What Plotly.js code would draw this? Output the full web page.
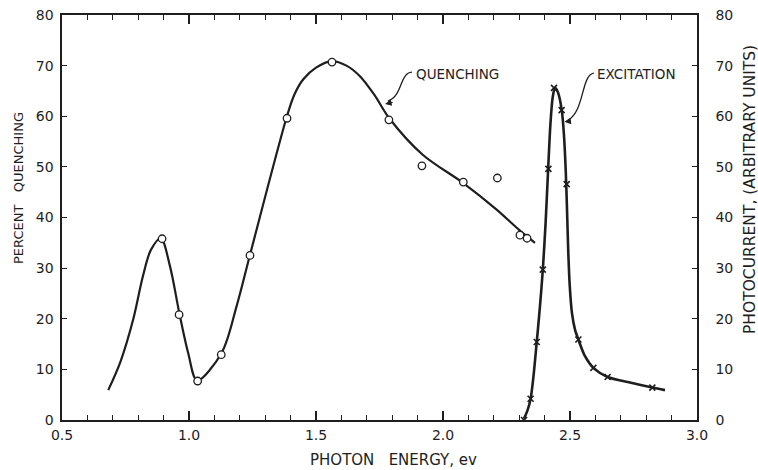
<!DOCTYPE html>
<html>
<head>
<meta charset="utf-8">
<script src="https://cdn.plot.ly/plotly-3.0.1.min.js"></script>
<style>
  html, body { margin: 0; padding: 0; background: #fff; }
  #chart { width: 758px; height: 470px; }
</style>
</head>
<body>
<div id="chart"></div>
<script>
// ---- Data ----
// Quenching: measured points (open circles), percent quenching
const quenchPointsX = [0.894, 0.961, 1.034, 1.127, 1.240, 1.386, 1.563, 1.787, 1.917, 2.080, 2.214, 2.303, 2.331];
const quenchPointsY = [35.8, 20.8, 7.7, 12.9, 32.5, 59.6, 70.7, 59.3, 50.2, 47.0, 47.8, 36.5, 35.9];

// Quenching: hand-drawn smooth curve, traced
const quenchCurveX = [0.682, 0.730, 0.781, 0.818, 0.850, 0.889, 0.925, 0.962, 0.997, 1.032, 1.129, 1.188, 1.240, 1.385, 1.415, 1.450, 1.500, 1.562, 1.620, 1.673, 1.730, 1.787, 1.920, 2.080, 2.210, 2.303, 2.362];
const quenchCurveY = [5.9, 11.5, 20.0, 28.3, 33.6, 35.9, 30.4, 21.1, 13.2, 7.8, 13.3, 22.6, 32.6, 59.9, 64.3, 67.3, 69.6, 70.9, 70.0, 67.9, 64.2, 59.7, 52.4, 46.8, 41.6, 37.4, 35.0];

// Excitation: measured points (x marks), photocurrent (arbitrary units)
const excitePointsX = [2.319, 2.345, 2.369, 2.393, 2.415, 2.437, 2.467, 2.487, 2.533, 2.592, 2.648, 2.824];
const excitePointsY = [0.0, 4.2, 15.4, 29.7, 49.6, 65.6, 61.2, 46.6, 15.9, 10.3, 8.5, 6.4];

// Excitation: traced curve
const exciteCurveX = [2.319, 2.332, 2.345, 2.357, 2.369, 2.381, 2.393, 2.404, 2.414, 2.423, 2.432, 2.441, 2.452, 2.467, 2.476, 2.483, 2.488, 2.493, 2.499, 2.508, 2.520, 2.533, 2.559, 2.592, 2.648, 2.736, 2.824, 2.874];
const exciteCurveY = [0.3, 1.8, 4.2, 9.0, 15.4, 22.0, 29.7, 39.0, 49.6, 58.5, 63.8, 65.6, 64.8, 61.4, 56.5, 49.5, 42.0, 33.5, 26.5, 21.0, 17.8, 15.9, 12.6, 10.3, 8.5, 7.4, 6.4, 5.9];

// Tick labels
const xTickVals = [0.5, 1.0, 1.5, 2.0, 2.5, 3.0];
const xTickText = ['0.5', '1.0', '1.5', '2.0', '2.5', '3.0'];
const yTickVals = [0, 10, 20, 30, 40, 50, 60, 70, 80];
const yTickText = ['0', '10', '20', '30', '40', '50', '60', '70', '80'];

// ---- Styling ----
const INK = '#1e1e1e';
const FONT = 'DejaVu Sans, Liberation Sans, sans-serif';

const traces = [
  { x: quenchCurveX, y: quenchCurveY, type: 'scatter', mode: 'lines',
    line: { color: INK, width: 2.2, shape: 'spline', smoothing: 0.9 }, yaxis: 'y' },
  { x: exciteCurveX, y: exciteCurveY, type: 'scatter', mode: 'lines',
    line: { color: INK, width: 2.6, shape: 'spline', smoothing: 0.8 }, yaxis: 'y2' },
  { x: quenchPointsX, y: quenchPointsY, type: 'scatter', mode: 'markers',
    marker: { symbol: 'circle', size: 7.5, color: '#ffffff', line: { color: INK, width: 1.3 } }, yaxis: 'y' },
  { x: excitePointsX, y: excitePointsY, type: 'scatter', mode: 'markers',
    marker: { symbol: 'x-thin-open', size: 6, color: INK, line: { color: INK, width: 1.6 } }, yaxis: 'y2' }
];

const layout = {
  width: 758, height: 470,
  margin: { l: 62, r: 61, t: 15, b: 50 },
  paper_bgcolor: '#ffffff', plot_bgcolor: '#ffffff',
  showlegend: false,
  font: { family: FONT, color: INK, size: 14 },
  xaxis: {
    range: [0.5, 3.0], tickvals: xTickVals, ticktext: xTickText,
    showgrid: false, zeroline: false,
    showline: true, linecolor: INK, linewidth: 1.6, mirror: 'ticks',
    ticks: 'inside', ticklen: 9, tickwidth: 1.4, tickcolor: INK,
    minor: { dtick: 0.1, ticks: 'inside', ticklen: 5, tickwidth: 1.2, tickcolor: INK },
    tickfont: { family: FONT, size: 14, color: INK }, ticklabelstandoff: 2
  },
  yaxis: {
    range: [0, 80], tickvals: yTickVals, ticktext: yTickText,
    showgrid: false, zeroline: false,
    showline: true, linecolor: INK, linewidth: 1.6,
    ticks: 'inside', ticklen: 5, tickwidth: 1.2, tickcolor: INK,
    tickfont: { family: FONT, size: 14, color: INK }, ticklabelstandoff: 4
  },
  yaxis2: {
    range: [0, 80], tickvals: yTickVals, ticktext: yTickText,
    overlaying: 'y', side: 'right',
    showgrid: false, zeroline: false,
    showline: true, linecolor: INK, linewidth: 1.6,
    ticks: 'inside', ticklen: 5, tickwidth: 1.2, tickcolor: INK,
    tickfont: { family: FONT, size: 14, color: INK }, ticklabelstandoff: 14
  },
  shapes: [
    { type: 'path', xref: 'x', yref: 'y',
      path: 'M 1.878 68.7 C 1.827 68.5, 1.843 64.0, 1.783 63.0',
      line: { color: INK, width: 1.3 } },
    { type: 'path', xref: 'x', yref: 'y',
      path: 'M 2.594 68.5 C 2.543 68.1, 2.559 61.2, 2.492 59.2',
      line: { color: INK, width: 1.3 } }
  ],
  annotations: [
    { x: 1.772, y: 62.4, xref: 'x', yref: 'y', text: '', showarrow: true,
      arrowhead: 2, arrowsize: 1, arrowwidth: 1.3, arrowcolor: INK, ax: 9, ay: -2, standoff: 0 },
    { x: 2.478, y: 58.9, xref: 'x', yref: 'y', text: '', showarrow: true,
      arrowhead: 2, arrowsize: 1, arrowwidth: 1.3, arrowcolor: INK, ax: 8, ay: -1, standoff: 0 },
    { x: 1.884, y: 68.3, xref: 'x', yref: 'y', text: 'QUENCHING', showarrow: false,
      xanchor: 'left', yanchor: 'middle', font: { family: FONT, size: 13.5, color: INK } },
    { x: 2.600, y: 68.3, xref: 'x', yref: 'y', text: 'EXCITATION', showarrow: false,
      xanchor: 'left', yanchor: 'middle', font: { family: FONT, size: 13.5, color: INK } },
    // axis titles
    { x: 18, y: 188, xref: 'paper', yref: 'paper', text: 'PERCENT&nbsp;&nbsp;&nbsp;QUENCHING',
      showarrow: false, textangle: -90, xanchor: 'center', yanchor: 'middle',
      font: { family: FONT, size: 13, color: INK } },
    { x: 750, y: 190, xref: 'paper', yref: 'paper', text: 'PHOTOCURRENT, (ARBITRARY UNITS)',
      showarrow: false, textangle: -90, xanchor: 'center', yanchor: 'middle',
      font: { family: FONT, size: 15.5, color: INK } },
    { x: 393, y: 460, xref: 'paper', yref: 'paper', text: 'PHOTON&nbsp;&nbsp;&nbsp;ENERGY, ev',
      showarrow: false, xanchor: 'center', yanchor: 'middle',
      font: { family: FONT, size: 15, color: INK } }
  ]
};

// convert pixel-placed title annotations into paper coordinates
const plotW = layout.width - layout.margin.l - layout.margin.r;
const plotH = layout.height - layout.margin.t - layout.margin.b;
layout.annotations.forEach(a => {
  if (a.xref === 'paper') {
    a.x = (a.x - layout.margin.l) / plotW;
    a.y = (layout.height - layout.margin.b - a.y) / plotH;
  }
});

Plotly.newPlot('chart', traces, layout, { displayModeBar: false, staticPlot: true });
</script>
</body>
</html>
